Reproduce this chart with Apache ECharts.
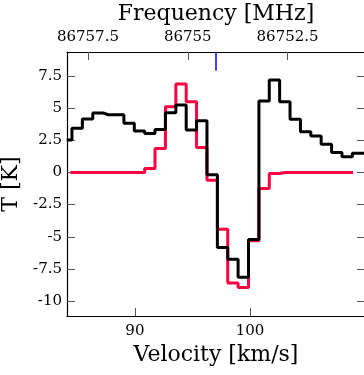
<!DOCTYPE html>
<html>
<head>
<meta charset="utf-8">
<script src="https://cdn.jsdelivr.net/npm/echarts@6/dist/echarts.min.js"></script>
<style>
  html, body { margin: 0; padding: 0; background: #fff; }
  #chart { width: 364px; height: 375px; }
</style>
</head>
<body>
<div id="chart"></div>
<script>
// channel centres (km/s)
var velocity = [84.08, 84.98, 85.89, 86.79, 87.69, 88.59, 89.50, 90.40, 91.30, 92.20,
  93.11, 94.01, 94.91, 95.81, 96.72, 97.62, 98.52, 99.42, 100.33, 101.23,
  102.13, 103.03, 103.94, 104.84, 105.74, 106.64, 107.55, 108.45, 109.35, 110.25];
// observed spectrum (black)
var observed = [2.51, 3.42, 4.14, 4.61, 4.48, 4.48, 3.81, 3.21, 3.03, 3.34,
  4.63, 5.23, 3.29, 4.01, -0.19, -5.83, -6.74, -8.14, -5.21, 5.54,
  7.17, 5.49, 4.12, 3.15, 2.82, 2.18, 1.55, 1.21, 1.48, 1.48];
// model (red), drawn on its own x grid
var modelVelocity = [84.39, 84.98, 85.89, 86.79, 87.69, 88.59, 89.50, 90.40, 91.30, 92.20,
  93.11, 94.01, 94.91, 95.81, 96.72, 97.62, 98.52, 99.42, 100.33, 101.23,
  102.13, 103.03, 103.94, 104.84, 105.74, 106.64, 107.55, 108.45, 108.96];
var model = [0, 0, 0, 0, 0, 0, 0, 0, 0.31, 1.86,
  5.10, 6.86, 5.49, 1.94, -0.60, -4.41, -8.58, -8.94, -5.31, -1.24,
  -0.08, 0, 0, 0, 0, 0, 0, 0, 0];

var velTicks = [90, 100];
var freqTicks = [86752.5, 86755, 86757.5];
var tTicks = [-10, -7.5, -5, -2.5, 0, 2.5, 5, 7.5];
var restVelocity = 97.07;

var font = "DejaVu Serif";

function pairs(xs, ys) {
  return xs.map(function (x, i) { return [x, ys[i]]; });
}

function tick(values) {
  return { show: true, inside: true, length: 8, customValues: values, lineStyle: { color: "#555", width: 1 } };
}

function label(values, margin) {
  return {
    show: true,
    customValues: values,
    margin: margin,
    fontFamily: font,
    fontSize: 15,
    color: "#000",
    formatter: function (v) { return "{s|" + v + "}"; },
    rich: { s: { fontFamily: font, fontSize: 15, color: "#000" } },
  };
}

var nameStyle = { fontFamily: font, fontSize: 22, color: "#000" };
var spine = { show: true, onZero: false, lineStyle: { color: "#000", width: 1.2 } };

var option = {
  animation: false,
  textStyle: { fontFamily: font },
  grid: { left: 67, top: 52, right: -1, bottom: 59, containLabel: false, outerBoundsMode: "none" },
  xAxis: [
    {
      type: "value",
      min: 84.1,
      max: 110,
      position: "bottom",
      name: "Velocity [km/s]",
      nameLocation: "middle",
      nameGap: 27,
      nameTextStyle: nameStyle,
      axisLine: spine,
      axisTick: tick(velTicks),
      axisLabel: label(velTicks, 8),
      splitLine: { show: false },
    },
    {
      type: "value",
      min: 86750.56,
      max: 86758.025,
      inverse: true,
      position: "top",
      name: "Frequency [MHz]",
      nameLocation: "middle",
      nameGap: 27,
      nameTextStyle: nameStyle,
      axisLine: spine,
      axisTick: tick(freqTicks),
      axisLabel: label(freqTicks, 7),
      splitLine: { show: false },
    },
  ],
  yAxis: [
    {
      type: "value",
      min: -11.15,
      max: 9.35,
      position: "left",
      name: "T [K]",
      nameLocation: "middle",
      nameGap: 43,
      nameTextStyle: nameStyle,
      axisLine: spine,
      axisTick: tick(tTicks),
      axisLabel: label(tTicks, 5),
      splitLine: { show: false },
    },
    {
      type: "value",
      min: -11.15,
      max: 9.35,
      position: "right",
      axisLine: spine,
      axisTick: tick(tTicks),
      axisLabel: { show: false },
      splitLine: { show: false },
    },
  ],
  series: [
    {
      // model
      type: "line",
      step: "middle",
      showSymbol: false,
      data: pairs(modelVelocity, model),
      lineStyle: { color: "#ff0040", width: 3 },
      z: 2,
    },
    {
      // observed
      type: "line",
      step: "middle",
      showSymbol: false,
      data: pairs(velocity, observed),
      lineStyle: { color: "#000", width: 3 },
      z: 3,
      markLine: {
        silent: true,
        symbol: "none",
        label: { show: false },
        lineStyle: { color: "#0000ff", width: 1.5, type: "solid" },
        data: [[{ coord: [restVelocity, 9.35] }, { coord: [restVelocity, 7.9] }]],
      },
    },
  ],
};

var myChart = echarts.init(document.getElementById("chart"));
myChart.setOption(option);
</script>
</body>
</html>
